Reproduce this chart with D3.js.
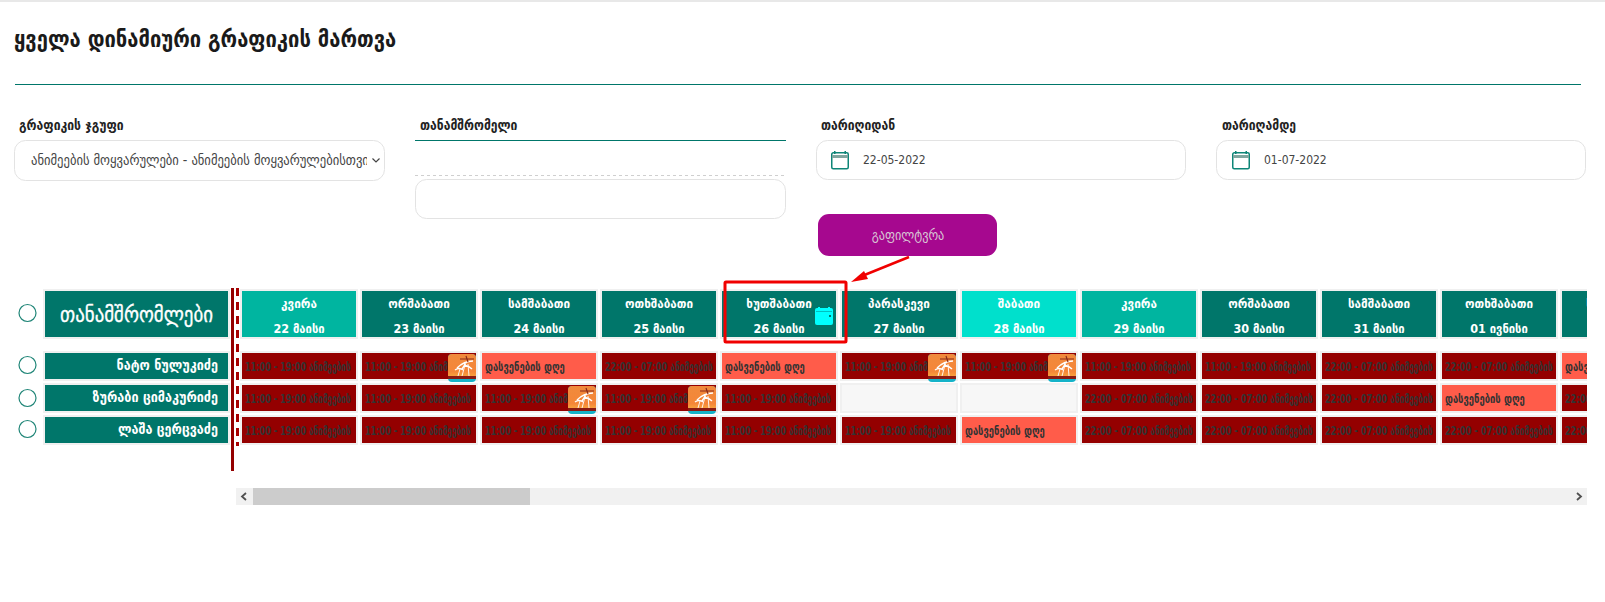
<!DOCTYPE html>
<html>
<head>
<meta charset="utf-8">
<script src="https://cdn.jsdelivr.net/npm/d3@7"></script>
<style>
  html, body { margin: 0; background: #fff; overflow: hidden; }
  text { font-family: "DejaVu Sans Condensed", "DejaVu Sans", sans-serif; }
</style>
</head>
<body>
<div id="container"></div>
<script>
/**
 * DATA
 * */
const weekdays = ["კვირა", "ორშაბათი", "სამშაბათი", "ოთხშაბათი", "ხუთშაბათი", "პარასკევი", "შაბათი", "კვირა", "ორშაბათი", "სამშაბათი", "ოთხშაბათი", "ხუთშაბათი"];
const dates = ["22 მაისი", "23 მაისი", "24 მაისი", "25 მაისი", "26 მაისი", "27 მაისი", "28 მაისი", "29 მაისი", "30 მაისი", "31 მაისი", "01 ივნისი", "02 ივნისი"];
const employees = ["ნატო ნულუკიძე", "ზურაბი ციმაკურიძე", "ლაშა ცერცვაძე"];

// a = 11:00 shift, n = 22:00 shift, o = day off, e = empty
const nato = ["a", "a", "o", "n", "o", "a", "a", "a", "a", "n", "n", "o"];
const zurabi = ["a", "a", "a", "a", "a", "e", "e", "n", "n", "n", "o", "n"];
const lasha = ["a", "a", "a", "a", "a", "a", "o", "n", "n", "n", "n", "n"];
const shifts = [nato, zurabi, lasha];

// [employee index, day index] of the vacation badges
const vacations = [[0, 1], [0, 5], [0, 6], [1, 2], [1, 3]];

const shiftLabels = {
  a: "11:00 - 19:00 ანიმეების",
  n: "22:00 - 07:00 ანიმეების",
  o: "დასვენების დღე",
  e: "",
};

const width = 1605,
  height = 602;
const teal = "#00766a";

const svg = d3
  .select("#container")
  .append("svg")
  .attr("width", width)
  .attr("height", height)
  .style("display", "block");

const defs = svg.append("defs");
defs
  .append("clipPath")
  .attr("id", "grid-clip")
  .append("rect")
  .attr("x", 236)
  .attr("y", 280)
  .attr("width", 1351)
  .attr("height", 180);

const orange = defs
  .append("linearGradient")
  .attr("id", "vac-bg")
  .attr("x1", 0)
  .attr("y1", 0)
  .attr("x2", 0)
  .attr("y2", 1);
orange.append("stop").attr("offset", "0%").attr("stop-color", "#f08a3c");
orange.append("stop").attr("offset", "70%").attr("stop-color", "#f58638");
orange.append("stop").attr("offset", "100%").attr("stop-color", "#f9b13f");

/**
 * PAGE HEADER + FILTERS
 * */
svg.append("rect").attr("width", width).attr("height", 2).attr("fill", "#e8e8e8");

svg
  .append("text")
  .attr("x", 14)
  .attr("y", 47)
  .attr("font-size", 22.4)
  .attr("font-weight", 700)
  .attr("fill", "#1a1a1a")
  .text("ყველა დინამიური გრაფიკის მართვა");

svg.append("line").attr("x1", 15).attr("x2", 1581).attr("y1", 84.5).attr("y2", 84.5).attr("stroke", teal).attr("stroke-width", 1);

function label(x, txt) {
  svg
    .append("text")
    .attr("x", x)
    .attr("y", 130)
    .attr("font-size", 13.5)
    .attr("font-weight", 700)
    .attr("fill", "#222")
    .text(txt);
}
function box(x, y, w, h) {
  svg
    .append("rect")
    .attr("x", x + 0.5)
    .attr("y", y + 0.5)
    .attr("width", w)
    .attr("height", h)
    .attr("rx", 11)
    .attr("fill", "#fff")
    .attr("stroke", "#e3e3e3");
}
function calendarIcon(x, y) {
  const g = svg.append("g").attr("transform", `translate(${x},${y})`);
  g.append("rect").attr("x", 0.75).attr("y", 1.75).attr("width", 16.5).attr("height", 16).attr("rx", 1.5).attr("fill", "#fff").attr("stroke", "#0d8577").attr("stroke-width", 1.5);
  g.append("rect").attr("x", 1).attr("y", 4).attr("width", 16).attr("height", 3).attr("fill", "#7fa69f");
  g.append("rect").attr("x", 3).attr("y", 0).attr("width", 1.5).attr("height", 3).attr("fill", "#0d8577");
  g.append("rect").attr("x", 13.5).attr("y", 0).attr("width", 1.5).attr("height", 3).attr("fill", "#0d8577");
}

label(19, "გრაფიკის ჯგუფი");
box(14, 140, 370, 40);
svg
  .append("foreignObject")
  .attr("x", 31)
  .attr("y", 150)
  .attr("width", 336)
  .attr("height", 22)
  .append("xhtml:div")
  .style("font", '14px "DejaVu Sans Condensed", "DejaVu Sans", sans-serif')
  .style("color", "#444")
  .style("white-space", "nowrap")
  .style("overflow", "hidden")
  .style("line-height", "20px")
  .text("ანიმეების მოყვარულები - ანიმეების მოყვარულებისთვის");
svg.append("path").attr("d", "M372.5 158.5 l3.5 3.5 l3.5 -3.5").attr("fill", "none").attr("stroke", "#444").attr("stroke-width", 1.2);

label(420, "თანამშრომელი");
svg.append("line").attr("x1", 415).attr("x2", 786).attr("y1", 140.5).attr("y2", 140.5).attr("stroke", teal).attr("stroke-width", 1);
svg.append("line").attr("x1", 415).attr("x2", 786).attr("y1", 175.5).attr("y2", 175.5).attr("stroke", "#cfcfcf").attr("stroke-dasharray", "3,3");
box(415, 179, 370, 39);

label(821, "თარიღიდან");
box(816, 140, 369, 39);
calendarIcon(831, 151);
label(1222, "თარიღამდე");
box(1216, 140, 369, 39);
calendarIcon(1232, 151);

[[863, "22-05-2022"], [1264, "01-07-2022"]].forEach(([x, t]) => {
  svg.append("text").attr("x", x).attr("y", 164).attr("font-size", 12).attr("font-weight", 500).attr("fill", "#444").text(t);
});

svg.append("rect").attr("x", 818).attr("y", 214).attr("width", 179).attr("height", 42).attr("rx", 11).attr("fill", "#a6088f");
svg
  .append("text")
  .attr("x", 908)
  .attr("y", 240)
  .attr("text-anchor", "middle")
  .attr("font-size", 13.5)
  .attr("fill", "#d8c6d4")
  .text("გაფილტვრა");

/**
 * SCALES
 * */
const x = d3.scaleBand().domain(d3.range(dates.length)).range([240, 240 + 120 * dates.length]);
const y = d3.scaleBand().domain(d3.range(employees.length)).range([351, 351 + 32 * employees.length]);

/**
 * LEFT COLUMN
 * */
const ringRows = [313, 365, 398, 429];
svg
  .selectAll(".ring")
  .data(ringRows)
  .join("circle")
  .attr("class", "ring")
  .attr("cx", 27.5)
  .attr("cy", (d) => d)
  .attr("r", 8.5)
  .attr("fill", "#fff")
  .attr("stroke", "#1f8577")
  .attr("stroke-width", 1.2);

svg.append("rect").attr("x", 43).attr("y", 289).attr("width", 187).attr("height", 50).attr("fill", "#f0f0f0");
svg.append("rect").attr("x", 45).attr("y", 291).attr("width", 183).attr("height", 46).attr("fill", teal);
svg
  .append("text")
  .attr("x", 136.5)
  .attr("y", 322)
  .attr("text-anchor", "middle")
  .attr("font-size", 21)
  .attr("fill", "#fff")
  .attr("stroke", "#fff")
  .attr("stroke-width", 0.3)
  .text("თანამშრომლები");

const names = svg.selectAll(".name").data(employees).join("g").attr("class", "name").attr("transform", (d, i) => `translate(0,${y(i)})`);
names.append("rect").attr("x", 43).attr("width", 187).attr("height", 30).attr("fill", "#f0f0f0");
names.append("rect").attr("x", 45).attr("y", 2).attr("width", 183).attr("height", 26).attr("fill", teal);
names
  .append("text")
  .attr("x", 218)
  .attr("y", 19)
  .attr("text-anchor", "end")
  .attr("font-size", 14)
  .attr("font-weight", 700)
  .attr("fill", "#fff")
  .text((d) => d);

// freeze divider
svg.append("rect").attr("x", 231).attr("y", 288).attr("width", 3).attr("height", 183).attr("fill", "#940000");
svg.append("line").attr("x1", 237.5).attr("x2", 237.5).attr("y1", 288).attr("y2", 446).attr("stroke", "#a80000").attr("stroke-width", 3).attr("stroke-dasharray", "8,6");

/**
 * SCHEDULE GRID
 * */
const grid = svg.append("g").attr("clip-path", "url(#grid-clip)");

const headerFill = (i) => (weekdays[i] === "შაბათი" ? "#00e0cc" : weekdays[i] === "კვირა" ? "#00b5a0" : teal);

const heads = grid.selectAll(".day").data(dates).join("g").attr("class", "day").attr("transform", (d, i) => `translate(${x(i)},289)`);
heads.append("rect").attr("width", x.bandwidth() - 2).attr("height", 50).attr("fill", "#f0f0f0");
heads.append("rect").attr("x", 2).attr("y", 2).attr("width", x.bandwidth() - 6).attr("height", 46).attr("fill", (d, i) => headerFill(i));
heads
  .append("text")
  .attr("x", 59)
  .attr("y", 19)
  .attr("text-anchor", "middle")
  .attr("font-size", 13)
  .attr("font-weight", 700)
  .attr("fill", "#fff")
  .text((d, i) => weekdays[i]);
heads
  .append("text")
  .attr("x", 59)
  .attr("y", 44)
  .attr("text-anchor", "middle")
  .attr("font-size", 12.5)
  .attr("font-weight", 700)
  .attr("fill", "#fff")
  .text((d) => d);

const cellFill = { a: "#940000", n: "#940000", o: "#ff5c4a", e: "#f7f7f7" };

const cells = shifts.flatMap((row, r) => row.map((kind, c) => ({ r, c, kind })));
const cell = grid.selectAll(".cell").data(cells).join("g").attr("class", "cell").attr("transform", (d) => `translate(${x(d.c)},${y(d.r)})`);
cell.append("rect").attr("width", x.bandwidth() - 2).attr("height", y.bandwidth() - 2).attr("fill", "#f0f0f0");
cell.append("rect").attr("x", 2).attr("y", 2).attr("width", x.bandwidth() - 6).attr("height", y.bandwidth() - 6).attr("fill", (d) => cellFill[d.kind]);

// shift labels are squeezed sideways to fit the cell, the original font is very narrow
const labelWidth = { a: 106, n: 108, o: 80, e: 1 };
cell
  .append("text")
  .attr("font-size", 12)
  .attr("font-weight", 700)
  .attr("fill", "#333")
  .text((d) => shiftLabels[d.kind])
  .attr("transform", function (d) {
    const len = this.getComputedTextLength() || 1;
    return `translate(5,19.5) scale(${labelWidth[d.kind] / len},1)`;
  });

const badge = grid
  .selectAll(".vacation")
  .data(vacations)
  .join("g")
  .attr("class", "vacation")
  .attr("transform", (d) => `translate(${x(d[1]) + 88},${y(d[0]) + 3})`);
badge.append("rect").attr("width", 28).attr("height", 28).attr("rx", 4).attr("fill", "#15b3c9");
badge.append("rect").attr("width", 28).attr("height", 25).attr("rx", 4).attr("fill", "url(#vac-bg)");
badge.append("rect").attr("y", 22).attr("width", 28).attr("height", 3).attr("fill", "#8a1a12");
badge.append("path").attr("d", "M14 22 L17 11 M21 22 L20 10 M10 22 L12 15").attr("stroke", "#fff").attr("stroke-width", 0.9).attr("fill", "none");
badge.append("path").attr("d", "M9 14 Q16 7 25 7 M16 11 Q21 12 24 15 M18 9 L14 15 M7 16 Q11 13 15 16").attr("stroke", "#fff").attr("stroke-width", 1.4).attr("fill", "none");
badge.append("path").attr("d", "M12 5 H26 M18 2 L20 8").attr("stroke", "#8a2a1a").attr("stroke-width", 1.2).attr("fill", "none");

/**
 * SCROLLBAR
 * */
svg.append("rect").attr("x", 236).attr("y", 488).attr("width", 1351).attr("height", 17).attr("fill", "#f1f1f1");
svg.append("rect").attr("x", 253).attr("y", 488).attr("width", 277).attr("height", 17).attr("fill", "#cccccc");
svg.append("path").attr("d", "M246 493 l-4 3.5 l4 3.5").attr("fill", "none").attr("stroke", "#505050").attr("stroke-width", 1.8);
svg.append("path").attr("d", "M1577 493 l4 3.5 l-4 3.5").attr("fill", "none").attr("stroke", "#505050").attr("stroke-width", 1.8);

/**
 * ANNOTATION (red box + arrow)
 * */
svg.append("rect").attr("x", 725).attr("y", 282).attr("width", 121).attr("height", 60).attr("rx", 1).attr("fill", "none").attr("stroke", "#f00000").attr("stroke-width", 3);
svg.append("line").attr("x1", 909).attr("y1", 257).attr("x2", 862).attr("y2", 276).attr("stroke", "#f00000").attr("stroke-width", 2.5);
svg.append("path").attr("d", "M851 282 L864 271 L868 279 Z").attr("fill", "#f00000");

const cal = svg.append("g").attr("transform", "translate(815,307)");
cal.append("rect").attr("y", 1).attr("width", 18).attr("height", 17).attr("rx", 2).attr("fill", "#00ffff");
cal.append("rect").attr("x", 3).attr("y", 0).attr("width", 2).attr("height", 2).attr("fill", "#00ffff");
cal.append("rect").attr("x", 13).attr("y", 0).attr("width", 2).attr("height", 2).attr("fill", "#00ffff");
cal.append("rect").attr("x", 1).attr("y", 4).attr("width", 16).attr("height", 0.7).attr("fill", "#00a5a5");
cal.append("rect").attr("x", 14).attr("y", 8).attr("width", 2).attr("height", 2).attr("fill", teal);
</script>
</body>
</html>
